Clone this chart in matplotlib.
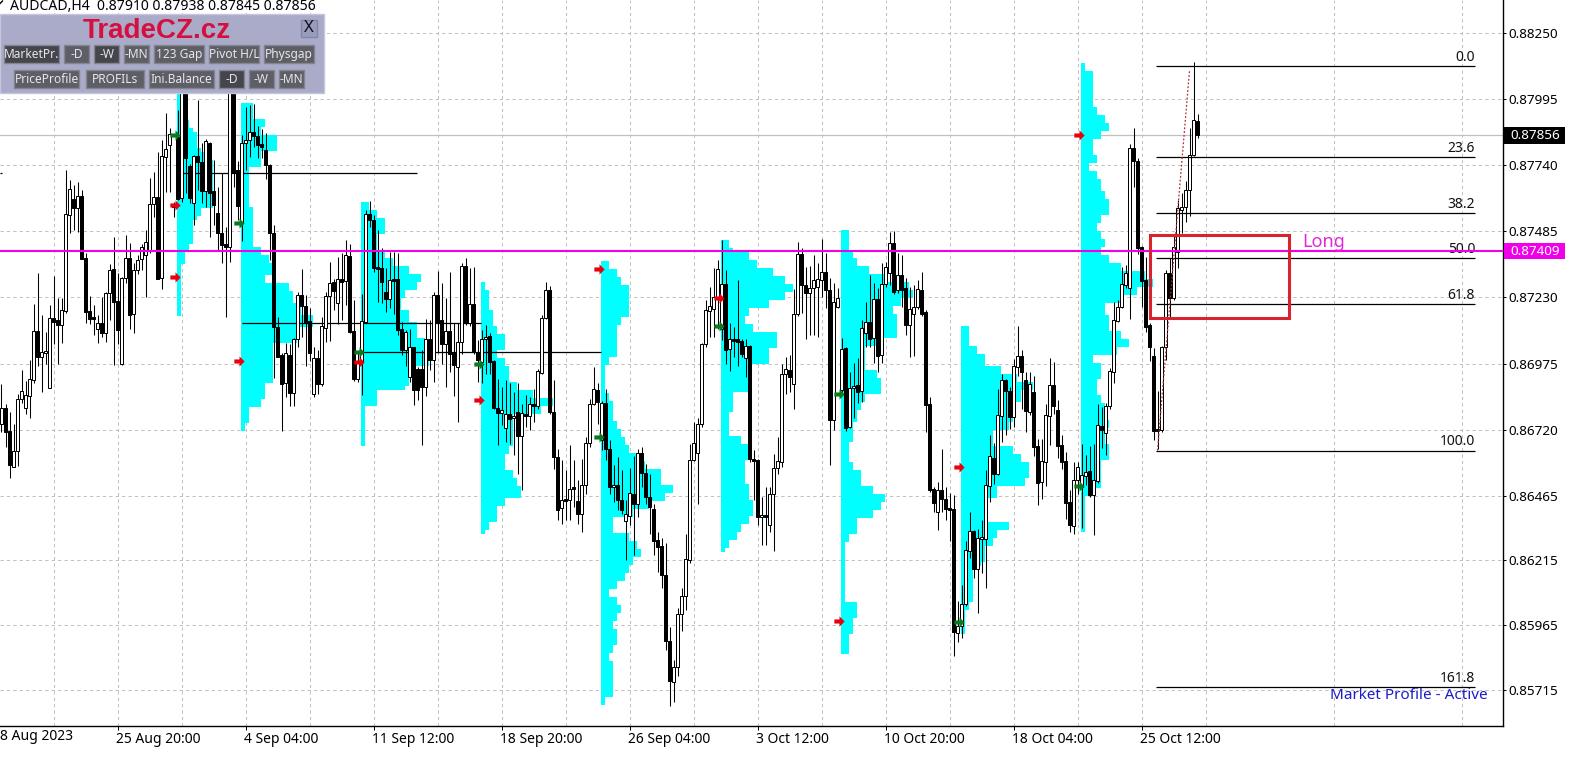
import matplotlib
matplotlib.use('Agg')
import matplotlib.pyplot as plt
from matplotlib.patches import Rectangle
from matplotlib.path import Path
from matplotlib.transforms import ScaledTranslation

plt.rcParams['font.family'] = ['Noto Sans', 'DejaVu Sans']

# AUDCAD H4 candles, prices in 1e-5 units
open_ = [86743,86802,86714,86577,86636,86840,86804,86850,86913,87100,
         87001,87014,86881,87149,87142,87123,87178,87549,87610,87575,
         87622,87381,87177,87148,87109,87133,87094,87249,87339,87216,
         86973,87307,87384,87165,87336,87377,87394,87413,87591,87617,
         87304,87774,87819,87592,87851,87613,88020,87738,87596,87776,
         87754,87639,87825,87639,87555,87478,87437,87424,88020,87722,
         87519,87825,87838,87870,87853,87823,87799,87741,87478,87117,
         87007,86901,87007,86862,87069,87239,87198,87139,86857,86997,
         86895,87114,87236,87288,87207,87303,87294,87390,87100,86915,
         86982,87136,87552,87529,87345,87342,87252,87224,87301,87303,
         87110,87026,86923,87037,86952,86952,86885,87071,86988,87239,
         87142,87050,87100,87020,86962,87058,87351,87130,87204,87020,
         86981,87068,87080,86984,86804,86784,86728,86779,86766,86788,
         86696,86782,86773,86817,86811,86940,87152,87260,86786,86615,
         86418,86450,86447,86492,86443,86396,86505,86670,86820,86874,
         86679,86824,86647,86499,86508,86447,86368,86385,86473,86434,
         86631,86554,86460,86415,86293,86270,86159,85905,85747,85804,
         86008,86076,86216,86602,86630,86743,87049,87178,87187,87230,
         87110,87280,87030,87071,87061,87061,86998,87042,86608,86601,
         86383,86392,86351,86473,86572,86595,86934,86949,86895,87165,
         87396,87278,87248,87265,87272,87297,87330,87259,86757,87195,
         86873,87034,86729,86879,86892,86869,87094,87136,87072,87223,
         87008,87281,87323,87439,87259,87317,87265,87124,87166,87192,
         87259,87175,86819,86489,86403,86487,86454,86415,86415,85935,
         85961,86048,86251,86327,86183,86296,86299,86502,86612,86550,
         86773,86910,86868,86769,86962,87003,86910,86788,86865,86655,
         86518,86595,86773,86891,86795,86659,86598,86441,86348,86524,
         86498,86541,86559,86466,86522,86733,86705,86811,86943,87140,
         87194,87278,87265,87806,87758,87424,87297,87124,87004,86720,
         86718,87040,87323,87226,87406,87568,87581,87643,87778,87910]
high = [86895,86820,86789,86741,86857,86949,86907,86990,87204,87323,
        87162,87097,87200,87312,87229,87229,87722,87684,87664,87676,
        87645,87400,87235,87200,87162,87232,87252,87361,87463,87323,
        87310,87470,87440,87364,87395,87436,87490,87690,87716,87793,
        87838,87941,87885,87600,87954,88080,88080,87745,87780,87992,
        87825,87841,87830,87760,87658,87709,87501,88100,88100,87758,
        87857,87964,87973,87977,87890,87880,87866,87745,87510,87156,
        87014,87055,87052,87075,87252,87338,87239,87188,87039,87027,
        87155,87252,87365,87300,87387,87402,87451,87438,87222,87014,
        87245,87568,87602,87548,87491,87421,87342,87406,87406,87400,
        87135,87103,87110,87040,86962,87026,87148,87142,87252,87331,
        87284,87226,87329,87130,87130,87363,87384,87342,87348,87065,
        87103,87123,87093,86988,86917,86885,86910,86898,86865,86898,
        86820,86852,86846,86878,86955,87161,87288,87273,86913,86647,
        86602,86563,86660,86602,86524,86608,86692,86840,86962,86898,
        86830,86878,86680,86582,86615,86563,86447,86570,86620,86647,
        86651,86589,86550,86434,86325,86303,86284,85960,85832,86031,
        86107,86316,86666,86750,86766,87055,87219,87271,87342,87374,
        87451,87335,87130,87116,87297,87071,87071,87046,86640,86608,
        86460,86499,86499,86627,86692,86975,87001,87007,87264,87445,
        87420,87349,87351,87394,87362,87454,87400,87304,87284,87265,
        87072,87040,86943,86976,86995,87143,87214,87317,87284,87265,
        87362,87368,87484,87487,87400,87394,87304,87272,87278,87297,
        87329,87180,86847,86500,86519,86647,86499,86474,86466,86057,
        86121,86290,86403,86333,86338,86370,86563,86698,86668,86878,
        86936,86915,86885,86994,87119,87026,86943,86943,86926,86685,
        86685,86820,86998,86981,86836,86698,86634,86486,86595,86595,
        86663,86621,86655,86663,86819,86806,86821,86956,87214,87220,
        87349,87355,87822,87883,87767,87430,87385,87130,87033,86870,
        87042,87336,87381,87471,87607,87633,87680,87885,88137,87938]
low = [86711,86653,86535,86575,86580,86823,86782,86765,86898,86965,
       86866,86973,86881,87052,86973,87055,87170,87479,87491,87483,
       87378,87130,87127,87085,87055,87078,87059,87142,86969,87052,
       86969,87287,87107,87094,87320,87336,87230,87400,87542,87300,
       87261,87638,87638,87540,87606,87600,87632,87594,87510,87645,
       87594,87581,87465,87510,87413,87364,87156,87368,87658,87529,
       87449,87722,87774,87812,87767,87770,87686,87375,86918,87002,
       86715,86846,86812,86812,87040,87078,86965,86985,86846,86857,
       86890,87059,87061,87181,87126,87142,87200,87094,86908,86904,
       86853,87130,87500,87329,87213,87207,87175,87188,87168,87085,
       87007,86965,86904,86814,86833,86660,86849,86949,86904,87014,
       86975,86885,86943,86850,86750,87013,87125,87120,87013,86904,
       86900,86936,86936,86800,86660,86737,86672,86666,86621,86550,
       86486,86730,86717,86750,86801,86936,87148,86782,86569,86370,
       86357,86370,86370,86421,86357,86325,86470,86653,86815,86743,
       86640,86602,86470,86441,86409,86396,86216,86350,86236,86383,
       86500,86434,86319,86236,86172,86107,85870,85652,85668,85768,
       85941,86024,86206,86600,86432,86730,87039,87078,87078,87110,
       87065,86975,86947,87001,86965,87001,86923,86595,86447,86351,
       86275,86275,86325,86250,86550,86576,86859,86865,86801,87160,
       87170,87068,87085,87085,87076,87230,87188,86583,86718,87188,
       86866,86715,86725,86764,86821,86828,87040,87040,86976,86943,
       86976,87270,87278,87245,87246,87194,87085,86999,87004,87185,
       87160,86712,86480,86403,86332,86403,86371,86289,85845,85900,
       85917,86040,86226,86148,86012,86168,86109,86441,86511,86546,
       86672,86698,86724,86730,86926,86801,86711,86775,86617,86430,
       86453,86502,86659,86782,86612,86569,86376,86325,86316,86473,
       86341,86505,86460,86312,86515,86650,86621,86800,86898,87135,
       87190,87265,87145,87658,87398,87194,87098,86986,86680,86647,
       86712,86988,87156,87220,87345,87477,87523,87546,87775,87845]
close = [86802,86711,86583,86637,86840,86868,86853,86917,87100,87001,
         87018,87025,87149,87136,87124,87180,87552,87649,87575,87622,
         87379,87175,87146,87146,87133,87094,87249,87335,87213,87104,
         87307,87384,87162,87336,87374,87424,87445,87591,87617,87300,
         87776,87802,87861,87580,87609,88020,87767,87613,87776,87754,
         87639,87832,87632,87587,87478,87433,87424,88020,87712,87583,
         87825,87838,87870,87855,87819,87810,87741,87478,87117,87002,
         86895,87014,86862,87069,87239,87198,87130,87014,86998,86895,
         87119,87235,87284,87256,87303,87290,87393,87097,86915,86982,
         87139,87552,87529,87342,87340,87290,87224,87299,87295,87104,
         87026,87095,87037,86872,86872,86885,87071,86988,87239,87130,
         87050,87100,87013,86968,87058,87351,87132,87204,87020,86988,
         87069,87075,86981,86804,86784,86797,86779,86760,86773,86696,
         86784,86773,86817,86811,86945,87152,87260,86786,86615,86411,
         86450,86445,86492,86490,86396,86508,86670,86820,86878,86827,
         86824,86647,86499,86508,86447,86411,86394,86475,86434,86631,
         86554,86460,86420,86291,86268,86159,85906,85749,85804,86008,
         86076,86219,86602,86670,86743,87049,87181,87196,87230,87338,
         87280,87026,87071,87062,87060,87011,87042,86606,86599,86383,
         86392,86383,86473,86572,86598,86936,86952,86923,87165,87397,
         87278,87248,87268,87297,87300,87327,87259,86757,87211,87227,
         87030,86725,86879,86888,86866,87111,87136,87068,87223,87004,
         87281,87349,87441,87252,87317,87259,87124,87184,87192,87261,
         87166,86815,86487,86435,86487,86454,86412,86411,85939,85961,
         86048,86257,86327,86181,86303,86305,86505,86617,86550,86778,
         86910,86869,86769,86964,87003,86943,86792,86897,86653,86515,
         86598,86775,86894,86811,86655,86595,86437,86351,86524,86576,
         86544,86556,86466,86524,86737,86718,86811,86946,87143,87192,
         87281,87323,87806,87758,87420,87295,87117,87040,86714,86714,
         87040,87323,87226,87426,87574,87578,87643,87779,87913,87856]

# market profiles: first bar, top price, and histogram width (in bars) per level from the top
profile_start = [44, 60, 90, 120, 150, 180, 210, 240, 270]
profile_top = [88023, 87981, 87599, 87290, 87371, 87452, 87490, 87120, 88134]
profile_1 = [2]*7 + [3]*2 + [4] + [5]*4 + [6] + [7]*2 + [9]*12 + [6]*2 + [5] + [4]*6 + [3]*2 + [2]*3 + [1]*13
profile_2 = ([3]*4 + [6]*2 + [5]*2 + [9]*4 + [5]*4 + [2]*10 + [3]*10 + [5]*2 + [7]*2 + [8]*3 + [6]*2 + [12]*2
             + [13]*3 + [15]*3 + [18]*3 + [14]*4 + [8]*10 + [6]*4 + [5]*2 + [2]*4 + [1]*2)
profile_3 = ([2]*2 + [4]*2 + [6]*4 + [4]*4 + [6]*2 + [8]*2 + [12]*2 + [15]*2 + [14]*2 + [11]*2 + [10]*3 + [12]*3
             + [14]*4 + [16]*4 + [17]*3 + [13]*3 + [12]*2 + [11] + [4]*4 + [1]*10)
profile_4 = ([1]*2 + [2]*5 + [3]*4 + [4]*2 + [6]*4 + [4]*2 + [6]*2 + [7]*4 + [9]*2 + [13]*2 + [18]*2 + [15]*2 + [8]*8
             + [7]*2 + [6]*4 + [8]*2 + [9]*2 + [10]*3 + [6]*2 + [4]*4 + [2]*2 + [1])
profile_5 = ([2]*2 + [4]*2 + [5]*2 + [7]*8 + [5]*2 + [4]*8 + [2]*2 + [1]*7 + [2]*2 + [3]*5 + [4]*2 + [5]*2 + [6]*2
             + [7]*2 + [10]*2 + [11]*2 + [15]*4 + [18]*2 + [16]*2 + [12]*2 + [8]*2 + [3]*4 + [7]*2 + [9]*2 + [10]*2
             + [8]*2 + [7]*2 + [6]*2 + [4]*2 + [2]*2 + [4]*2 + [5]*2 + [4]*2 + [3]*2 + [4]*4 + [3]*2 + [2]*2 + [3]*9 + [1]*2)
profile_6 = ([2]*2 + [3] + [7]*2 + [9]*2 + [13]*2 + [16]*2 + [18]*2 + [16]*2 + [12]*2 + [7]*2 + [6]*2 + [8]*2
             + [14]*4 + [12]*4 + [7]*7 + [3]*5 + [2]*6 + [5]*2 + [7]*4 + [6]*6 + [7]*4 + [8]*4 + [7]*2 + [5]*2 + [4]*2 + [2]*2 + [1])
profile_7 = ([2]*5 + [3]*2 + [4]*2 + [7]*2 + [11]*2 + [17]*2 + [18]*2 + [15]*2 + [13]*2 + [14]*6 + [10]*2 + [6]*6
             + [9]*2 + [10]*4 + [6]*2 + [5]*2 + [4]*3 + [3]*5 + [2]*5 + [3]*2 + [5]*4 + [8]*2 + [11]*2 + [10]*2 + [8]*2
             + [4]*4 + [2]*2 + [1]*15 + [4]*4 + [3]*4 + [2]*5)
profile_8 = ([2]*5 + [4]*2 + [6]*3 + [10]*2 + [14]*2 + [18]*2 + [15]*3 + [13]*5 + [12]*2 + [8]*4 + [13]*2 + [15]*2
             + [17]*4 + [16]*2 + [9]*3 + [6]*6 + [12]*2 + [9]*2 + [8]*2 + [6]*4 + [5] + [3]*9 + [2]*2 + [1]*6)
profile_9 = ([1]*2 + [3]*9 + [4]*2 + [6]*2 + [7]*2 + [5]*2 + [3]*4 + [4]*2 + [2]*2 + [4]*2 + [5]*3 + [6]*2 + [7]*4
             + [5]*2 + [4]*2 + [5]*2 + [6]*2 + [5]*2 + [7]*2 + [10]*2 + [16]*2 + [18]*2 + [14]*2 + [10]*2 + [6]*3
             + [7]*4 + [10]*2 + [12]*2 + [9]*2 + [3]*2 + [5]*4 + [4]*4 + [5]*2 + [6]*4 + [7]*2 + [6]*4 + [7]*4 + [5]*7
             + [2]*2 + [1]*9)
profile_widths = [profile_1, profile_2, profile_3, profile_4, profile_5, profile_6, profile_7, profile_8, profile_9]

price_ticks = [0.88250, 0.87995, 0.87740, 0.87485, 0.87230, 0.86975, 0.86720, 0.86465, 0.86215, 0.85965, 0.85715]
date_labels = ['25 Aug 20:00', '4 Sep 04:00', '11 Sep 12:00', '18 Sep 20:00', '26 Sep 04:00',
               '3 Oct 12:00', '10 Oct 20:00', '18 Oct 04:00', '25 Oct 12:00']
date_bars = [29, 61, 93, 125, 157, 189, 221, 253, 285]

fib_labels = ['0.0', '23.6', '38.2', '50.0', '61.8', '100.0', '161.8']
fib_prices = [88122, 87771, 87555, 87381, 87204, 86639, 85725]

# session lines: first bar, last bar, price
poc_from = [44, 60, 90, -0.4]
poc_to = [103.8, 119.9, 149.9, 0.2]
poc_price = [87709, 87132, 87018, 87709]

red_bar = [43.4, 43.4, 59.4, 89.4, 119.4, 149.4, 179.4, 239.4, 209.4, 269.4]
red_price = [87587, 87309, 86985, 86981, 86834, 87340, 87228, 86576, 85981, 87857]
green_bar = [43.4, 59.4, 89.4, 119.4, 149.4, 179.4, 209.4, 239.4, 269.4]
green_price = [87857, 87517, 87020, 86973, 86692, 87120, 86858, 85977, 86502]

last_price = 0.87856
marked_price = 0.87409
level_step = 0.0001545

fig = plt.figure(figsize=(15.74, 7.6), dpi=100, facecolor='white')
ax = fig.add_axes([0, 34.5 / 760, 1503 / 1574, 725.5 / 760])
ax.set_xlim(-0.375, 375.375)
ax.set_ylim(0.85578, 0.88378)

# grid behind everything
ax.set_axisbelow(True)
ax.set_yticks(price_ticks)
ax.set_yticklabels(['%.5f' % p for p in price_ticks])
ax.yaxis.tick_right()
ax.set_xticks(date_bars)
ax.set_xticklabels(date_labels, ha='left')
ax.set_xticks(list(range(13, 376, 32)), minor=True)
ax.tick_params(axis='y', length=2.5, width=0.72, labelsize=9.7, pad=1.2, colors='black')
ax.tick_params(axis='x', which='major', length=3, width=0.72, labelsize=10, pad=1.5)
ax.tick_params(axis='x', which='minor', length=0)
shift = ScaledTranslation(-2 / 100, 0, fig.dpi_scale_trans)
for lab in ax.get_xticklabels():
    lab.set_transform(lab.get_transform() + shift)
for sp in ['top', 'left']:
    ax.spines[sp].set_visible(False)
for sp in ['right', 'bottom']:
    ax.spines[sp].set_linewidth(1.0)
ax.grid(True, which='both', color='#c0c0c0', linestyle=(0, (3.2, 3.2)), linewidth=0.72)

ax.axhline(last_price, color='#c0c0c0', linewidth=0.9, zorder=1)

# cyan market profiles
for start, top, widths in zip(profile_start, profile_top, profile_widths):
    levels = [top * 1e-5 - (i + 0.5) * level_step for i in range(len(widths))]
    ax.barh(levels, widths, height=level_step, left=start - 0.125, color='#00ffff', linewidth=0, zorder=2)

# session lines
for a, b, p in zip(poc_from, poc_to, poc_price):
    ax.plot([a, b], [p * 1e-5, p * 1e-5], color='black', linewidth=0.9, zorder=3, solid_capstyle='butt')

# candles
bars = list(range(len(close)))
ax.vlines(bars, [v * 1e-5 for v in low], [v * 1e-5 for v in high], color='black', linewidth=0.75, zorder=4)
body_low = [min(o, c) * 1e-5 for o, c in zip(open_, close)]
body_h = [max(abs(c - o), 8) * 1e-5 for o, c in zip(open_, close)]
body_col = ['white' if c >= o else 'black' for o, c in zip(open_, close)]
ax.bar(bars, body_h, bottom=body_low, width=0.72, color=body_col, edgecolor='black', linewidth=0.72, zorder=5)

# signal arrows
arrow = Path([(-1, -0.4), (0, -0.4), (0, -1), (1, 0), (0, 1), (0, 0.4), (-1, 0.4), (-1, -0.4)], closed=True)
ax.scatter(red_bar, [v * 1e-5 for v in red_price], marker=arrow, s=55, color='#e8000c', linewidth=0, zorder=6)
ax.scatter(green_bar, [v * 1e-5 for v in green_price], marker=arrow, s=55, color='#0a7a1e', linewidth=0, zorder=6)

# fibonacci levels
for lab, p in zip(fib_labels, fib_prices):
    ax.plot([288.6, 368.4], [p * 1e-5, p * 1e-5], color='black', linewidth=0.9, zorder=6, solid_capstyle='butt')
    ax.text(368.4, p * 1e-5 + 0.00006, lab, ha='right', va='bottom', fontsize=10, color='#111111', zorder=7)
ax.plot([289, 297], [0.86639, 0.88105], color='#b0303a', linewidth=0.9, linestyle=(0, (1.5, 1.5)), zorder=7)

ax.axhline(marked_price, color='#f000e8', linewidth=1.5, zorder=8)

ax.add_patch(Rectangle((287, 0.87151), 34.8, 0.00320, fill=False, edgecolor='#d8232f', linewidth=2.2, zorder=9))
ax.text(330.6, 0.87409, 'Long', color='#e028d8', fontsize=13, ha='center', va='bottom', zorder=9)
ax.text(371.5, 0.85692, 'Market Profile - Active', color='#1c1cc8', fontsize=11, ha='right', va='center', zorder=9)

# price boxes on the right scale
yax = ax.get_yaxis_transform()
for p, face, txt in [(last_price, 'black', 'white'), (marked_price, '#f000e8', 'white')]:
    ax.add_patch(Rectangle((1.0007, p - 0.00032), 0.0408, 0.00064, transform=yax, facecolor=face,
                           edgecolor='none', clip_on=False, zorder=10))
    ax.text(1.0047, p, '%.5f' % p, transform=yax, color=txt, fontsize=9.7, va='center', ha='left',
            clip_on=False, zorder=11)

# overlay in pixels for the indicator panel and header
ov = fig.add_axes([0, 0, 1, 1], facecolor='none')
ov.set_xlim(0, 1574)
ov.set_ylim(760, 0)
ov.axis('off')
ov.text(0, 736, '8 Aug 2023', fontsize=10, ha='left', va='center')
ov.text(10, 10.5, 'AUDCAD,H4  0.87910 0.87938 0.87845 0.87856', fontsize=10.1, ha='left', va='baseline')
ov.plot([0, 2.5], [3.5, 1], color='black', linewidth=1)

ov.add_patch(Rectangle((0, 14), 323.5, 79, facecolor='#a9abc9', edgecolor='#c4c6dc', linewidth=1))
ov.text(157, 31, 'TradeCZ.cz', color='#d5103f', fontsize=20, fontweight='bold', family='Liberation Sans',
        ha='center', va='center')
ov.add_patch(Rectangle((300.5, 20), 16.5, 17, facecolor='#9a9cbc', edgecolor='#8486a8', linewidth=1))
ov.text(308.5, 28.5, 'X', fontsize=12, ha='center', va='center', color='#101018')

button_text = ['MarketPr.', '-D', '-W', '-MN', '123 Gap', 'Pivot H/L', 'Physgap',
               'PriceProfile', 'PROFILs', 'Ini.Balance', '-D', '-W', '-MN']
button_left = [4, 64, 94, 124, 154, 209, 264, 14, 86, 149, 219, 249, 279]
button_right = [59, 89, 119, 149, 204, 259, 314, 79, 144, 214, 244, 274, 304]
button_dark = [True, False, True, False, False, False, False, False, False, False, True, False, False]
for i, name in enumerate(button_text):
    top = 45 if i < 7 else 70
    x0, x1 = button_left[i], button_right[i]
    ov.add_patch(Rectangle((x0, top), x1 - x0, 18, facecolor='#45454d' if button_dark[i] else '#5e5e66',
                           edgecolor='#85858f', linewidth=1))
    clip = Rectangle((x0, top), x1 - x0, 18, transform=ov.transData)
    t = ov.text((x0 + x1) / 2, top + 9.5, name, fontsize=8.6, color='#e6e6ea', ha='center', va='center')
    t.set_clip_path(clip)

fig.savefig('out.png', dpi=100)
